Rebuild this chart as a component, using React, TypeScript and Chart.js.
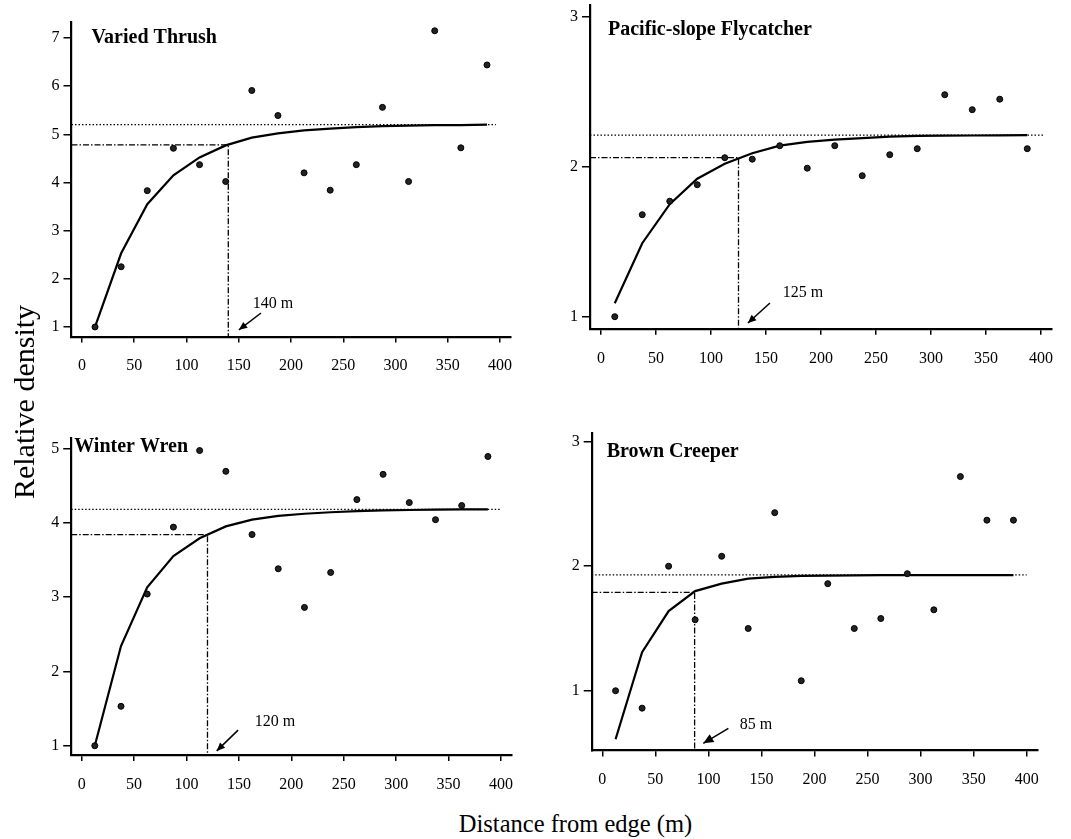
import React, { useEffect, useRef } from 'react';
import { Chart, registerables } from 'chart.js';

Chart.register(...registerables);

const FONT = "'Liberation Serif', 'Times New Roman', Times, serif";

// ---- data ----
const distances = [12.5, 37.5, 62.5, 87.5, 112.5, 137.5, 162.5, 187.5, 212.5, 237.5, 262.5, 287.5, 312.5, 337.5, 362.5, 387.5];
const xTicks = [0, 50, 100, 150, 200, 250, 300, 350, 400];

const thrushObserved = [1.0, 2.25, 3.83, 4.71, 4.37, 4.02, 5.91, 5.39, 4.2, 3.84, 4.37, 5.56, 4.02, 7.15, 4.72, 6.44];
const thrushFitted = [1.0, 2.53, 3.55, 4.15, 4.52, 4.77, 4.93, 5.02, 5.08, 5.12, 5.15, 5.17, 5.18, 5.19, 5.19, 5.2];
const thrushYTicks = [1, 2, 3, 4, 5, 6, 7];

const flycatcherObserved = [1.0, 1.68, 1.77, 1.88, 2.06, 2.05, 2.14, 1.99, 2.14, 1.94, 2.08, 2.12, 2.48, 2.38, 2.45, 2.12];
const flycatcherFitted = [1.09, 1.49, 1.75, 1.92, 2.02, 2.09, 2.14, 2.165, 2.18, 2.19, 2.2, 2.205, 2.207, 2.208, 2.209, 2.21];
const flycatcherYTicks = [1, 2, 3];

const wrenObserved = [1.0, 1.53, 3.04, 3.94, 4.97, 4.69, 3.84, 3.38, 2.86, 3.33, 4.31, 4.65, 4.27, 4.04, 4.23, 4.89];
const wrenFitted = [1.0, 2.34, 3.13, 3.55, 3.79, 3.95, 4.04, 4.09, 4.12, 4.14, 4.155, 4.165, 4.17, 4.175, 4.178, 4.18];
const wrenYTicks = [1, 2, 3, 4, 5];

const creeperObserved = [1.0, 0.86, 2.0, 1.57, 2.08, 1.5, 2.43, 1.08, 1.86, 1.5, 1.58, 1.94, 1.65, 2.72, 2.37, 2.37];
const creeperFitted = [0.61, 1.31, 1.64, 1.8, 1.86, 1.9, 1.915, 1.922, 1.925, 1.927, 1.928, 1.929, 1.929, 1.929, 1.929, 1.929];
const creeperYTicks = [1, 2, 3];

const speciesNames = ['Varied Thrush', 'Pacific-slope Flycatcher', 'Winter Wren', 'Brown Creeper'];
const asymptotes = [5.2, 2.21, 4.18, 1.93];
const edgeDistances = [140, 125, 120, 87];
const edgeDensities = [4.78, 2.06, 3.84, 1.79];
const edgeLabels = ['140 m', '125 m', '120 m', '85 m'];

const yAxisTitle = 'Relative density';
const xAxisTitle = 'Distance from edge (m)';

// ---- layout / styling of each panel ----
type Panel = {
  observed: number[];
  fitted: number[];
  yTicks: number[];
  idx: number;
  area: { left: number; top: number; right: number; bottom: number };
  xMin: number; xMax: number; yMin: number; yMax: number;
  titleOffset: [number, number];
  dottedEnd: number;
  label: { x: number; y: number };
  arrow: { x1: number; y1: number; x2: number; y2: number };
  head: number;
};

const panels: Panel[] = [
  {
    observed: thrushObserved, fitted: thrushFitted, yTicks: thrushYTicks, idx: 0,
    area: { left: 71.5, top: 22.1, right: 510.5, bottom: 336.6 },
    xMin: -10, xMax: 410, yMin: 0.8, yMax: 7.33,
    titleOffset: [20, 20.6], dottedEnd: 396,
    label: { x: 182.8, y: 1.48 },
    arrow: { x1: 171.3, y1: 1.29, x2: 150.2, y2: 0.94 }, head: 9,
  },
  {
    observed: flycatcherObserved, fitted: flycatcherFitted, yTicks: flycatcherYTicks, idx: 1,
    area: { left: 590, top: 4.7, right: 1052, bottom: 328.7 },
    xMin: -10, xMax: 410, yMin: 0.92, yMax: 3.08,
    titleOffset: [18, 30], dottedEnd: 402,
    label: { x: 183.6, y: 1.158 },
    arrow: { x1: 153.6, y1: 1.091, x2: 133.6, y2: 0.958 }, head: 9,
  },
  {
    observed: wrenObserved, fitted: wrenFitted, yTicks: wrenYTicks, idx: 2,
    area: { left: 71.2, top: 437.9, right: 511.5, bottom: 755 },
    xMin: -10, xMax: 410, yMin: 0.875, yMax: 5.14,
    titleOffset: [3, 14], dottedEnd: 399,
    label: { x: 184.4, y: 1.319 },
    arrow: { x1: 149.2, y1: 1.21, x2: 128.8, y2: 0.93 }, head: 9,
  },
  {
    observed: creeperObserved, fitted: creeperFitted, yTicks: creeperYTicks, idx: 3,
    area: { left: 591.7, top: 433, right: 1037.3, bottom: 750.5 },
    xMin: -10, xMax: 410, yMin: 0.52, yMax: 3.07,
    titleOffset: [15, 23.7], dottedEnd: 400,
    label: { x: 144.9, y: 0.724 },
    arrow: { x1: 118.8, y1: 0.698, x2: 95.2, y2: 0.578 }, head: 11,
  },
];

const MARGIN = { left: 50, top: 20, right: 25, bottom: 50 };

function geom(a: Panel['area']) {
  const cl = Math.round(a.left - MARGIN.left);
  const ct = Math.round(a.top - MARGIN.top);
  const cw = Math.round(a.right + MARGIN.right - cl);
  const ch = Math.round(a.bottom + MARGIN.bottom - ct);
  return {
    cl, ct, cw, ch,
    yW: a.left - cl,
    padTop: a.top - ct,
    padRight: cl + cw - a.right,
    xH: ct + ch - a.bottom,
  };
}

function makeDecor(p: Panel) {
  return {
    id: 'decor' + p.idx,
    afterDatasetsDraw(chart: any) {
      const { ctx, chartArea, scales } = chart;
      ctx.save();
      ctx.fillStyle = '#000';
      ctx.strokeStyle = '#000';
      ctx.font = `bold 20px ${FONT}`;
      ctx.textAlign = 'left';
      ctx.textBaseline = 'alphabetic';
      ctx.fillText(speciesNames[p.idx], chartArea.left + p.titleOffset[0], chartArea.top + p.titleOffset[1]);

      ctx.font = `16px ${FONT}`;
      ctx.textAlign = 'center';
      ctx.textBaseline = 'middle';
      ctx.fillText(edgeLabels[p.idx], scales.x.getPixelForValue(p.label.x), scales.y.getPixelForValue(p.label.y));

      const x1 = scales.x.getPixelForValue(p.arrow.x1);
      const y1 = scales.y.getPixelForValue(p.arrow.y1);
      const x2 = scales.x.getPixelForValue(p.arrow.x2);
      const y2 = scales.y.getPixelForValue(p.arrow.y2);
      ctx.lineWidth = 1.5;
      ctx.beginPath();
      ctx.moveTo(x1, y1);
      ctx.lineTo(x2, y2);
      ctx.stroke();
      const ang = Math.atan2(y2 - y1, x2 - x1);
      const h = p.head;
      ctx.beginPath();
      ctx.moveTo(x2, y2);
      ctx.lineTo(x2 - h * Math.cos(ang - 0.42), y2 - h * Math.sin(ang - 0.42));
      ctx.lineTo(x2 - h * Math.cos(ang + 0.42), y2 - h * Math.sin(ang + 0.42));
      ctx.closePath();
      ctx.fill();
      ctx.restore();
    },
  };
}

function PanelChart({ p }: { p: Panel }) {
  const ref = useRef<HTMLCanvasElement | null>(null);
  const g = geom(p.area);

  useEffect(() => {
    if (!ref.current) return;
    const i = p.idx;
    const chart = new Chart(ref.current, {
      type: 'scatter',
      data: {
        datasets: [
          {
            label: 'observed',
            data: distances.map((x, k) => ({ x, y: p.observed[k] })),
            pointRadius: 3,
            pointBackgroundColor: '#222',
            pointBorderColor: '#000',
            pointBorderWidth: 1,
            showLine: false,
          },
          {
            label: 'fitted',
            data: distances.map((x, k) => ({ x, y: p.fitted[k] })),
            showLine: true,
            pointRadius: 0,
            borderColor: '#000',
            borderWidth: 2.2,
            tension: 0,
            fill: false,
          },
          {
            label: 'asymptote',
            data: [{ x: p.xMin, y: asymptotes[i] }, { x: p.dottedEnd, y: asymptotes[i] }],
            showLine: true,
            pointRadius: 0,
            borderColor: '#000',
            borderWidth: 1.2,
            borderDash: [1.5, 2],
            fill: false,
          },
          {
            label: 'edge',
            data: [
              { x: p.xMin, y: edgeDensities[i] },
              { x: edgeDistances[i], y: edgeDensities[i] },
              { x: edgeDistances[i], y: p.yMin },
            ],
            showLine: true,
            pointRadius: 0,
            borderColor: '#000',
            borderWidth: 1.3,
            borderDash: [6, 2, 1.5, 2],
            fill: false,
          },
        ],
      },
      options: {
        animation: false,
        responsive: false,
        devicePixelRatio: 1,
        events: [],
        layout: { padding: { left: 0, top: g.padTop, right: g.padRight, bottom: 0 } },
        plugins: { legend: { display: false }, tooltip: { enabled: false } },
        scales: {
          x: {
            type: 'linear',
            min: p.xMin,
            max: p.xMax,
            afterBuildTicks: (s: any) => { s.ticks = xTicks.map((v) => ({ value: v })); },
            afterFit: (s: any) => { s.height = g.xH; s.paddingLeft = 0; s.paddingRight = 0; },
            ticks: { font: { family: FONT, size: 16 }, color: '#000', padding: 14, maxRotation: 0, autoSkip: false },
            grid: { drawOnChartArea: false, drawTicks: true, tickLength: 6, color: '#000', lineWidth: 1.5 },
            border: { display: true, color: '#000', width: 2.2 },
          },
          y: {
            type: 'linear',
            min: p.yMin,
            max: p.yMax,
            afterBuildTicks: (s: any) => { s.ticks = p.yTicks.map((v) => ({ value: v })); },
            afterFit: (s: any) => { s.width = g.yW; s.paddingTop = 0; s.paddingBottom = 0; },
            ticks: { font: { family: FONT, size: 16 }, color: '#000', padding: 4, autoSkip: false },
            grid: { drawOnChartArea: false, drawTicks: true, tickLength: 8, color: '#000', lineWidth: 1.5 },
            border: { display: true, color: '#000', width: 2.2 },
          },
        },
      },
      plugins: [makeDecor(p)],
    } as any);
    return () => chart.destroy();
  }, []);

  return (
    <canvas
      ref={ref}
      width={g.cw}
      height={g.ch}
      style={{ position: 'absolute', left: g.cl, top: g.ct, width: g.cw, height: g.ch }}
    />
  );
}

export default function App() {
  return (
    <div style={{ position: 'absolute', left: 0, top: 0, width: 1071, height: 839, overflow: 'hidden', background: '#fff' }}>
      {panels.map((p) => (
        <PanelChart key={p.idx} p={p} />
      ))}
      <div
        style={{
          position: 'absolute', left: 24 - 150, top: 402 - 15, width: 300, height: 30,
          lineHeight: '30px', fontSize: 30, fontFamily: FONT, color: '#000', textAlign: 'center',
          transform: 'rotate(-90deg)', transformOrigin: 'center center', whiteSpace: 'nowrap',
        }}
      >
        {yAxisTitle}
      </div>
      <div
        style={{
          position: 'absolute', left: 575.5 - 200, top: 811.5, width: 400, height: 25,
          lineHeight: '24.5px', fontSize: 24.5, fontFamily: FONT, color: '#000', textAlign: 'center',
          whiteSpace: 'nowrap',
        }}
      >
        {xAxisTitle}
      </div>
    </div>
  );
}
